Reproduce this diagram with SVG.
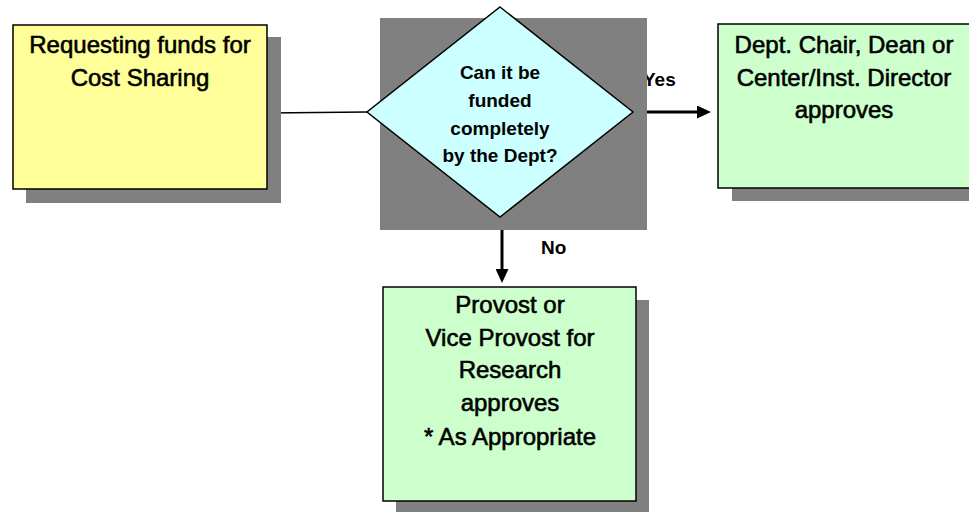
<svg xmlns="http://www.w3.org/2000/svg" width="969" height="512" viewBox="0 0 969 512">
<style>
.shadow{fill:#808080}
.box{stroke:#000;stroke-width:1.5}
.t{font-family:"Liberation Sans",Arial,sans-serif;font-size:24px;text-anchor:middle;fill:#000;stroke:#000;stroke-width:0.6}
.d{font-family:"Liberation Sans",Arial,sans-serif;font-weight:bold;font-size:19px;text-anchor:middle;fill:#000}
.l{font-family:"Liberation Sans",Arial,sans-serif;font-weight:bold;font-size:19px;fill:#000}
.c{stroke:#000;fill:none}
</style>
<defs>
<marker id="ah" markerWidth="14" markerHeight="13" refX="0" refY="6.5" orient="auto" markerUnits="userSpaceOnUse">
<path d="M0,0 L14,6.5 L0,13 Z" fill="#000"/>
</marker>
</defs>
<g id="connectors">
<line class="c" x1="267" y1="113" x2="367" y2="112" stroke-width="1.5"/>
<line class="c" x1="633" y1="112" x2="697" y2="112" stroke-width="3" marker-end="url(#ah)"/>
<line class="c" x1="502" y1="217" x2="502" y2="269" stroke-width="3" marker-end="url(#ah)"/>
<text class="l" x="643" y="86">Yes</text>
<text class="l" x="541" y="254">No</text>
</g>
<g id="start">
<rect class="shadow" x="26" y="37" width="255" height="166"/>
<rect class="box" x="13" y="25" width="254" height="164" fill="#FFFF99"/>
<text class="t" x="140" y="53">Requesting funds for</text>
<text class="t" x="140" y="86">Cost Sharing</text>
</g>
<g id="decision">
<rect class="shadow" x="380" y="18" width="267" height="212"/>
<polygon class="box" points="500,7 633,112 500,217 367,112" fill="#CCFFFF"/>
<text class="d" x="500" y="79">Can it be</text>
<text class="d" x="500" y="107">funded</text>
<text class="d" x="500" y="135">completely</text>
<text class="d" x="500" y="162">by the Dept?</text>
</g>
<g id="dept">
<rect class="shadow" x="732" y="37" width="250" height="164"/>
<rect class="box" x="718" y="24" width="260" height="164" fill="#CCFFCC"/>
<text class="t" x="844" y="53">Dept. Chair, Dean or</text>
<text class="t" x="844" y="86">Center/Inst. Director</text>
<text class="t" x="844" y="118">approves</text>
</g>
<g id="provost">
<rect class="shadow" x="396" y="300" width="253" height="215"/>
<rect class="box" x="383" y="287" width="253" height="214" fill="#CCFFCC"/>
<text class="t" x="510" y="313">Provost or</text>
<text class="t" x="510" y="346">Vice Provost for</text>
<text class="t" x="510" y="378">Research</text>
<text class="t" x="510" y="411">approves</text>
<text class="t" x="510" y="445">* As Appropriate</text>
</g>
</svg>
